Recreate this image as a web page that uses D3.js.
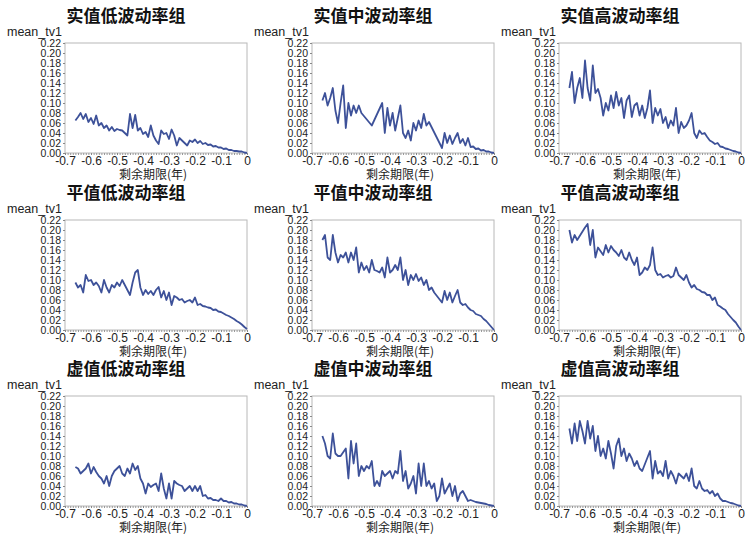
<!DOCTYPE html>
<html>
<head>
<meta charset="utf-8">
<script src="https://cdn.jsdelivr.net/npm/d3@7"></script>
<style>
  body { margin: 0; background: #fff; }
  svg { display: block; font-family: "Liberation Sans", Arial, "Noto Sans CJK SC", sans-serif; }
  .title { font-family: "Noto Sans CJK SC", sans-serif; font-weight: 700; }
  .xlab { font-family: "Noto Sans CJK SC", sans-serif; }
</style>
</head>
<body>
<svg id="chart"></svg>
<script>
// remaining maturity (years), shared grid
const maturity = [-0.66,-0.65,-0.64,-0.63,-0.62,-0.61,-0.60,-0.59,-0.58,-0.57,-0.56,-0.55,-0.54,-0.53,-0.52,-0.51,
  -0.50,-0.49,-0.48,-0.47,-0.46,-0.45,-0.44,-0.43,-0.42,-0.41,-0.40,-0.39,-0.38,-0.37,-0.36,-0.35,-0.34,-0.33,
  -0.32,-0.31,-0.30,-0.29,-0.28,-0.27,-0.26,-0.25,-0.24,-0.23,-0.22,-0.21,-0.20,-0.19,-0.18,-0.17,-0.16,-0.15,
  -0.14,-0.13,-0.12,-0.11,-0.10,-0.09,-0.08,-0.07,-0.06,-0.05,-0.04,-0.03,-0.02,-0.01,0.00]

// mean_tv1 per group (null = no observation, line joins across)
const itmLow = [0.065,0.072,0.08,0.068,0.078,0.062,0.07,0.058,0.075,0.055,0.06,0.05,0.055,0.045,0.052,0.044,
  0.048,0.046,0.045,0.04,0.035,0.078,0.05,0.076,0.045,0.05,0.038,0.042,0.032,0.055,0.035,0.025,0.018,0.045,
  0.038,0.04,0.028,0.047,0.035,0.015,0.03,0.025,0.02,0.015,0.025,0.022,0.027,0.02,0.024,0.018,0.02,0.016,
  0.017,0.013,0.014,0.011,0.011,0.008,0.009,0.006,0.006,0.004,0.004,0.003,0.003,0.001,0.0]
const itmMid = [0.105,0.12,0.095,0.11,0.13,0.085,0.06,0.1,0.135,0.05,0.1,0.075,0.095,0.08,0.095,0.08,
  null,null,null,0.055,null,null,null,0.1,0.04,0.09,0.055,0.08,0.045,0.07,0.095,0.04,0.03,0.045,
  0.025,0.06,0.045,0.065,0.05,0.078,0.055,0.062,null,null,null,null,0.01,0.04,0.02,0.035,0.018,0.03,
  0.04,0.02,0.028,0.015,0.03,0.012,0.013,0.008,0.009,0.005,0.006,0.003,0.003,0.001,0.0]
const itmHigh = [0.13,0.162,0.1,0.13,0.15,0.11,0.185,0.13,0.105,0.175,0.12,0.128,0.11,0.075,0.1,0.085,
  0.115,0.09,0.122,0.095,0.11,0.07,0.105,0.115,0.072,0.095,0.1,0.075,0.095,0.07,0.09,0.125,0.06,0.09,
  0.075,0.088,0.06,0.072,0.05,0.065,0.055,0.09,0.04,0.062,0.05,0.055,0.065,0.08,0.04,0.03,0.045,0.038,
  0.04,0.032,0.025,0.022,0.018,0.02,0.013,0.012,0.009,0.008,0.006,0.004,0.003,0.001,0.0]
const atmLow = [0.095,0.085,0.09,0.075,0.11,0.098,0.1,0.09,0.095,0.088,0.075,0.1,0.085,0.075,0.09,0.085,
  0.095,0.088,0.1,0.09,0.08,0.07,0.095,0.115,0.12,0.085,0.07,0.08,0.072,0.078,0.07,0.08,0.086,0.065,
  0.078,0.06,0.075,0.05,0.068,0.065,0.06,0.062,0.055,0.058,0.06,0.055,0.065,0.05,0.052,0.048,0.047,0.045,
  0.044,0.04,0.041,0.037,0.036,0.033,0.03,0.028,0.025,0.022,0.018,0.015,0.011,0.006,0.002]
const atmMid = [0.18,0.19,0.145,0.14,0.19,0.155,0.135,0.15,0.145,0.155,0.135,0.155,0.14,0.165,0.115,0.135,
  0.12,0.128,0.115,0.14,0.12,0.118,0.115,0.125,0.105,0.145,0.115,0.12,0.13,0.12,0.145,0.1,0.12,0.09,
  0.11,0.1,0.112,0.098,0.105,0.09,0.1,0.08,0.085,0.075,null,null,0.055,0.078,0.06,0.075,0.055,0.068,
  0.08,0.055,0.05,0.052,0.045,0.04,0.038,0.032,0.03,0.028,0.022,0.018,0.012,0.006,0.0]
const atmHigh = [0.2,0.175,0.19,0.18,null,null,0.205,0.212,0.17,0.2,0.145,0.165,null,0.15,0.17,0.155,
  0.168,0.16,0.155,0.148,0.16,0.145,0.14,0.155,0.14,0.13,0.145,0.11,0.115,0.125,0.12,0.13,0.165,0.12,
  0.11,0.112,0.105,0.108,0.11,0.105,0.108,0.125,0.11,0.105,0.1,0.11,0.095,0.085,0.09,0.082,0.08,0.076,
  0.075,0.07,0.07,0.06,0.065,0.05,0.047,0.043,0.04,0.032,0.026,0.02,0.015,0.007,0.0]
const otmLow = [0.078,0.075,0.065,0.07,0.075,0.085,0.065,0.078,0.068,0.06,0.055,0.045,0.06,0.04,0.06,0.07,
  0.075,0.08,0.065,0.06,0.075,0.065,0.085,0.072,0.08,0.055,0.045,0.025,0.045,0.038,0.042,0.045,0.03,0.065,
  0.035,0.015,0.045,0.015,0.05,0.045,0.042,0.04,0.03,0.035,0.04,0.03,0.04,0.03,0.04,0.02,0.022,0.015,
  0.016,0.012,0.012,0.01,0.015,0.01,0.01,0.007,0.008,0.005,0.005,0.003,0.003,0.001,0.0]
const otmMid = [0.14,0.125,0.1,0.095,0.145,0.105,0.1,0.1,null,0.115,0.055,0.13,0.085,0.125,0.06,0.08,
  0.07,0.08,0.075,0.09,0.04,0.05,0.04,0.07,0.06,0.065,0.07,0.055,0.07,0.065,0.11,0.05,0.07,0.035,
  0.045,0.06,0.025,0.085,0.04,0.085,0.04,0.05,0.035,0.045,0.01,0.02,0.055,0.025,0.035,0.045,0.02,0.04,
  0.01,0.025,0.03,0.02,0.01,0.012,0.01,0.008,0.007,0.006,0.005,0.004,0.002,0.001,0.0]
const otmHigh = [0.155,0.125,0.165,0.13,0.17,0.15,0.125,0.17,0.135,0.16,0.11,0.14,0.1,0.115,0.095,0.13,
  0.105,0.075,0.12,0.135,0.1,0.115,0.09,0.105,0.095,0.08,0.09,0.075,0.07,null,null,0.11,0.055,0.09,
  0.065,0.07,0.06,0.09,0.055,0.07,0.06,0.045,0.065,0.06,0.055,0.065,0.05,0.075,0.04,0.035,0.05,0.035,
  0.03,0.032,0.025,0.03,0.02,0.025,0.015,0.01,0.01,0.008,0.006,0.005,0.003,0.001,0.0]

const titles = ['实值低波动率组','实值中波动率组','实值高波动率组',
                '平值低波动率组','平值中波动率组','平值高波动率组',
                '虚值低波动率组','虚值中波动率组','虚值高波动率组']
const series = [itmLow, itmMid, itmHigh, atmLow, atmMid, atmHigh, otmLow, otmMid, otmHigh]
const xTicks = [-0.7,-0.6,-0.5,-0.4,-0.3,-0.2,-0.1,0]
const yTicks = [0,0.02,0.04,0.06,0.08,0.10,0.12,0.14,0.16,0.18,0.20,0.22]

const width = 745, height = 534
const colLeft = [65, 312, 559]     // plot frame left edges
const rowTop = [43, 220, 396]      // plot frame top edges
const plotW = 182, plotH = 110
const lineColor = '#3d5199'

const svg = d3.select('#chart').attr('width', width).attr('height', height)

// plain hyphen instead of the unicode minus d3 uses
const fmtX = d => d === 0 ? '0' : d3.format('.1f')(d).replace('−', '-')

series.forEach((vals, i) => {
	const col = i % 3, row = Math.floor(i / 3)
	const g = svg.append('g')
		.attr('transform', 'translate(' + colLeft[col] + ',' + rowTop[row] + ')')

	const x = d3.scaleLinear().domain([-0.7, 0]).range([0, plotW])
	const y = d3.scaleLinear().domain([0, 0.22]).range([plotH, 0])

	// frame
	g.append('rect')
		.attr('width', plotW).attr('height', plotH)
		.attr('fill', 'none').attr('stroke', '#b8b8b8').attr('stroke-width', 1)

	// minor ticks on x
	g.append('g')
		.attr('transform', 'translate(0,' + plotH + ')')
		.call(d3.axisBottom(x).ticks(70).tickSize(2).tickFormat(''))
		.call(a => a.select('.domain').remove())
		.selectAll('line').attr('stroke', '#999')

	// x axis
	const xa = g.append('g')
		.attr('transform', 'translate(0,' + plotH + ')')
		.call(d3.axisBottom(x).tickValues(xTicks).tickSize(2).tickPadding(1).tickFormat(fmtX))
	xa.select('.domain').remove()
	xa.selectAll('line').attr('stroke', '#888')
	xa.selectAll('text').attr('font-size', 12).attr('fill', '#222')
		.attr('font-family', '"Liberation Sans", Arial, sans-serif')

	// y axis
	const ya = g.append('g')
		.call(d3.axisLeft(y).tickValues(yTicks).tickSize(2).tickPadding(2)
			.tickFormat(d3.format('.2f')))
	ya.select('.domain').remove()
	ya.selectAll('line').attr('stroke', '#888')
	ya.selectAll('text').attr('font-size', 10.5).attr('fill', '#222')
		.attr('font-family', '"Liberation Sans", Arial, sans-serif')

	// data line
	const pts = maturity.map((m, k) => ({m: m, v: vals[k]})).filter(d => d.v !== null)
	g.append('path')
		.datum(pts)
		.attr('fill', 'none')
		.attr('stroke', lineColor)
		.attr('stroke-width', 1.8)
		.attr('stroke-linejoin', 'round')
		.attr('d', d3.line().x(d => x(d.m)).y(d => y(d.v)))

	// title
	g.append('text')
		.attr('class', 'title')
		.attr('x', x(-0.35) - 30).attr('y', -21)
		.attr('text-anchor', 'middle')
		.attr('font-size', 17).attr('fill', '#111')
		.text(titles[i])

	// y label
	g.append('text')
		.attr('x', -58).attr('y', -7)
		.attr('font-size', 12.5).attr('fill', '#222')
		.text('mean_tv1')

	// x label
	g.append('text')
		.attr('class', 'xlab')
		.attr('x', plotW / 2 - 3).attr('y', plotH + 26)
		.attr('text-anchor', 'middle')
		.attr('font-size', 12).attr('fill', '#222')
		.text('剩余期限(年)')
})
</script>
</body>
</html>
